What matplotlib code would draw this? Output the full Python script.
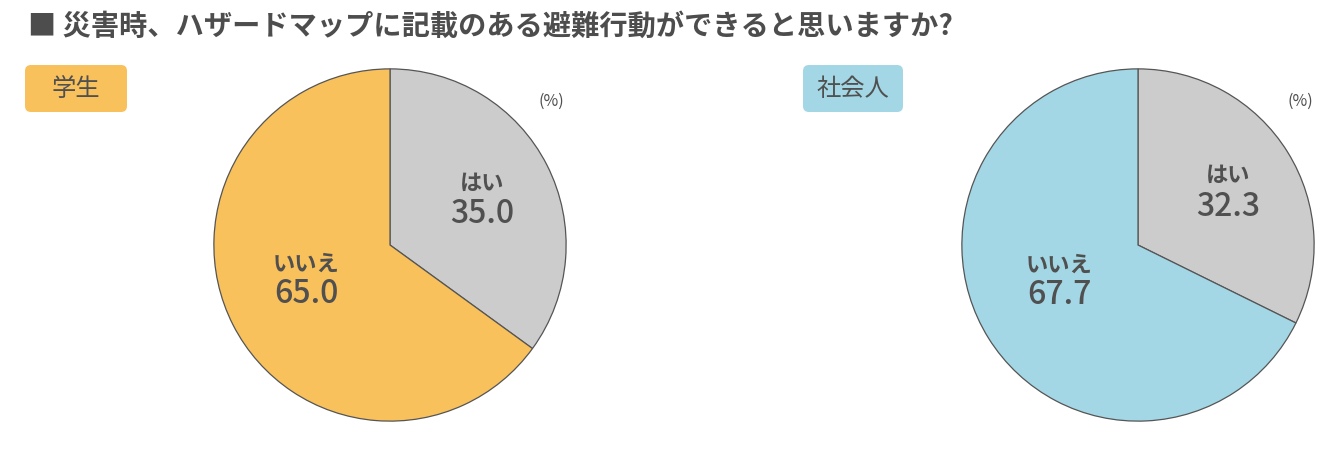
import matplotlib
matplotlib.use("Agg")
import matplotlib.pyplot as plt
from matplotlib.patches import FancyBboxPatch

plt.rcParams['font.family'] = ['Noto Sans CJK JP', 'DejaVu Sans']

title = "■ 災害時、ハザードマップに記載のある避難行動ができると思いますか?"
categories = ["はい", "いいえ"]
groups = ["学生", "社会人"]
student_values = [35.0, 65.0]
worker_values = [32.3, 67.7]
unit_label = "(%)"

W, H = 1340, 453
fig = plt.figure(figsize=(W / 100, H / 100), dpi=100)
fig.patch.set_facecolor("white")

text_color = "#505050"
gray = "#CCCCCC"
colors_student = [gray, "#F9C15B"]
colors_worker = [gray, "#A3D7E5"]
box_colors = ["#F9C15B", "#A3D7E5"]

R = 177
centers = [(390, 245), (1138, 245)]
datasets = [student_values, worker_values]
color_sets = [colors_student, colors_worker]

for (cx, cy), vals, cols in zip(centers, datasets, color_sets):
    ax = fig.add_axes([(cx - R) / W, 1 - (cy + R) / H, 2 * R / W, 2 * R / H])
    ax.pie(vals, colors=cols, startangle=90, counterclock=False, radius=1,
           wedgeprops=dict(edgecolor="#555555", linewidth=0.9))
    ax.set_xlim(-1.005, 1.005)
    ax.set_ylim(-1.005, 1.005)
    ax.set_aspect("equal")
    ax.axis("off")

ov = fig.add_axes([0, 0, 1, 1])
ov.set_xlim(0, W)
ov.set_ylim(H, 0)
ov.axis("off")
ov.patch.set_alpha(0)

ov.text(28, 27, title, fontsize=20.3, fontweight="bold", color="#4d4d4d",
        ha="left", va="center")

box_pos = [(25, 65, 102, 47), (803, 65, 100, 47)]
for (bx, by, bw, bh), g, c in zip(box_pos, groups, box_colors):
    ov.add_patch(FancyBboxPatch((bx + 6, by + 6), bw - 12, bh - 12,
                                boxstyle="round,pad=6", facecolor=c,
                                edgecolor="none"))
    ov.text(bx + bw / 2, by + bh / 2, g, fontsize=17.5, color=text_color,
            ha="center", va="center")

for ux in [551, 1300]:
    ov.text(ux, 101, unit_label, fontsize=11.5, color=text_color,
            ha="center", va="center")

label_pos = [
    [(482, 183, 214), (306, 264, 294)],
    [(1228, 175, 207), (1059, 265, 295)],
]
for vals, positions in zip(datasets, label_pos):
    for cat, v, (lx, ly1, ly2) in zip(categories, vals, positions):
        ov.text(lx, ly1, cat, fontsize=16, fontweight="bold", color=text_color,
                ha="center", va="center")
        ov.text(lx, ly2, f"{v:.1f}", fontsize=23, fontweight="medium",
                color=text_color, ha="center", va="center")

fig.savefig("out.png", dpi=100)
